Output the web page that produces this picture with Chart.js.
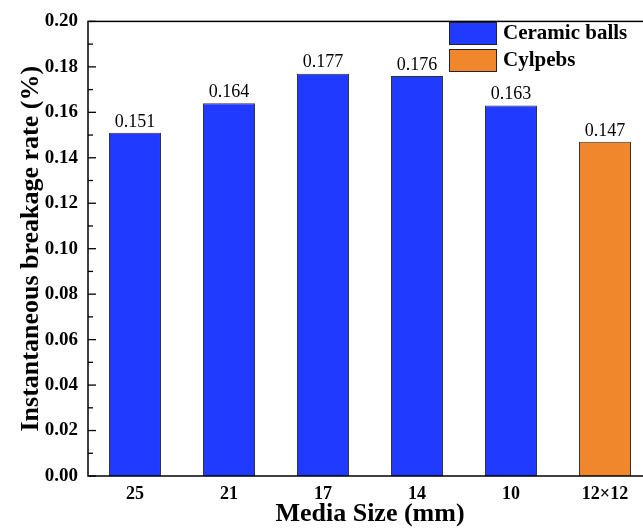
<!DOCTYPE html>
<html><head><meta charset="utf-8">
<script src="https://cdn.jsdelivr.net/npm/chart.js@4/dist/chart.umd.min.js"></script>
<style>
html,body{margin:0;padding:0;background:#fff;overflow:hidden;}
#wrap{width:660px;height:530px;}
</style></head>
<body><div id="wrap"><canvas id="c" width="660" height="530"></canvas></div>
<script>
const categories = ['25','21','17','14','10','12×12'];
const ceramicBalls = [0.151,0.164,0.177,0.176,0.163,null];
const cylpebs = [null,null,null,null,null,0.147];
const seriesNames = ['Ceramic balls','Cylpebs'];
const yTicks = [0,0.02,0.04,0.06,0.08,0.10,0.12,0.14,0.16,0.18,0.20];
const xTitle = 'Media Size (mm)';
const yTitle = 'Instantaneous breakage rate (%)';

const BLUE = 'rgb(33,58,255)';
const ORANGE = 'rgb(240,135,45)';
const SERIF = '"Liberation Serif","Times New Roman",serif';

const decor = {
  id: 'decor',
  afterDatasetsDraw(chart) {
    const ctx = chart.ctx, a = chart.chartArea;
    const y = chart.scales.y;
    ctx.save();
    ctx.strokeStyle = '#000'; ctx.lineWidth = 1.5;
    ctx.strokeRect(a.left, a.top, a.right - a.left, a.bottom - a.top);
    ctx.lineWidth = 1.3;
    for (let i = 0; i < yTicks.length; i++) {
      const py = y.getPixelForValue(yTicks[i]);
      ctx.beginPath(); ctx.moveTo(a.left, py); ctx.lineTo(a.left + 8, py); ctx.stroke();
      if (i < yTicks.length - 1) {
        const pm = y.getPixelForValue((yTicks[i] + yTicks[i+1]) / 2);
        ctx.beginPath(); ctx.moveTo(a.left, pm); ctx.lineTo(a.left + 5, pm); ctx.stroke();
      }
    }
    ctx.fillStyle = '#000';
    ctx.font = '18px ' + SERIF;
    ctx.textAlign = 'center'; ctx.textBaseline = 'bottom';
    chart.data.datasets.forEach((ds, di) => {
      const meta = chart.getDatasetMeta(di);
      meta.data.forEach((bar, i) => {
        const v = ds.data[i];
        if (v == null) return;
        ctx.fillText(v.toFixed(3), bar.x, bar.y - 2);
      });
    });
    const cols = [BLUE, ORANGE];
    ctx.font = 'bold 21px ' + SERIF;
    ctx.textAlign = 'left'; ctx.textBaseline = 'middle';
    seriesNames.forEach((n, i) => {
      const by = 22 + i * 27;
      ctx.fillStyle = cols[i];
      ctx.fillRect(449, by, 48, 23);
      ctx.strokeStyle = '#222'; ctx.lineWidth = 1;
      ctx.strokeRect(449.5, by + 0.5, 47, 22);
      ctx.fillStyle = '#000';
      ctx.fillText(n, 503, by + 12);
    });
    ctx.font = 'bold 26px ' + SERIF;
    ctx.textAlign = 'center'; ctx.textBaseline = 'alphabetic';
    ctx.fillText(xTitle, (a.left + a.right) / 2, 521);
    ctx.save();
    ctx.translate(38, (a.top + a.bottom) / 2);
    ctx.rotate(-Math.PI / 2);
    ctx.fillText(yTitle, 0, 0);
    ctx.restore();
    ctx.restore();
  }
};

new Chart(document.getElementById('c'), {
  type: 'bar',
  data: {
    labels: categories,
    datasets: [
      { label: seriesNames[0], data: ceramicBalls, backgroundColor: BLUE, borderColor: '#333', borderWidth: 1, grouped: false },
      { label: seriesNames[1], data: cylpebs, backgroundColor: ORANGE, borderColor: '#333', borderWidth: 1, grouped: false }
    ]
  },
  options: {
    responsive: false,
    animation: false,
    layout: { padding: { top: 20, right: 8, left: 0, bottom: 0 } },
    plugins: { legend: { display: false }, tooltip: { enabled: false } },
    datasets: { bar: { categoryPercentage: 1, barPercentage: 0.553 } },
    scales: {
      x: {
        grid: { display: false, drawTicks: false },
        border: { display: false },
        ticks: { color: '#000', font: { family: SERIF, size: 18, weight: 'bold' }, padding: 8, maxRotation: 0 },
        afterFit(s) { s.height = 54; }
      },
      y: {
        min: 0, max: 0.2,
        grid: { display: false, drawTicks: false },
        border: { display: false },
        afterBuildTicks(s) { s.ticks = yTicks.map(v => ({ value: v })); },
        ticks: { color: '#000', font: { family: SERIF, size: 19, weight: 'bold' }, padding: 10,
          callback: v => Number(v).toFixed(2) },
        afterFit(s) { s.width = 88; }
      }
    }
  },
  plugins: [decor]
});
</script>
</body></html>
